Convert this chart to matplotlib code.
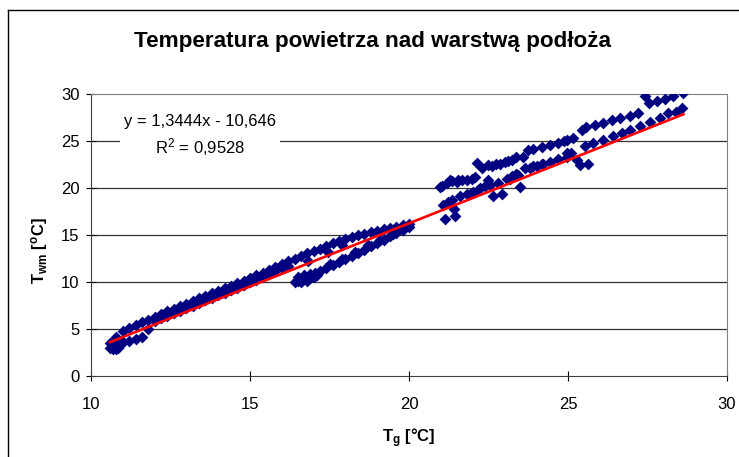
import numpy as np
import matplotlib
matplotlib.use("Agg")
import matplotlib.pyplot as plt
from matplotlib.lines import Line2D

plt.rcParams['font.family'] = ['Liberation Sans', 'DejaVu Sans']
plt.rcParams['mathtext.fontset'] = 'custom'
plt.rcParams['mathtext.rm'] = 'Liberation Sans'
plt.rcParams['mathtext.it'] = 'Liberation Sans:italic'
plt.rcParams['mathtext.bf'] = 'Liberation Sans:bold'

# --- data ---
# start cluster
start_x = [10.6, 10.65, 10.7, 10.75, 10.8, 10.85, 10.6, 10.9, 10.7, 10.8]
start_y = [3.0, 3.4, 2.9, 3.2, 3.5, 3.0, 3.5, 3.3, 3.6, 2.9]

# upper row of the dense band (warming)
band_up_x = [10.8, 11.0, 11.2, 11.4, 11.6, 11.8, 12.0, 12.2, 12.4, 12.6, 12.8,
             13.0, 13.2, 13.4, 13.6, 13.8, 14.0, 14.2, 14.4, 14.6, 14.8, 15.0,
             15.2, 15.4, 15.6, 15.8, 16.0, 16.2, 16.4, 16.6, 16.8, 17.0, 17.2,
             17.4, 17.6, 17.8, 18.0, 18.2, 18.4, 18.6, 18.8, 19.0, 19.2, 19.4,
             19.6, 19.8, 20.0]
band_up_y = [4.2, 4.75, 5.1, 5.4, 5.7, 6.0, 6.3, 6.6, 6.9, 7.15, 7.45,
             7.7, 8.0, 8.25, 8.55, 8.8, 9.05, 9.35, 9.6, 9.85, 10.15, 10.4,
             10.7, 11.0, 11.3, 11.6, 11.9, 12.2, 12.45, 12.75, 13.05, 13.3, 13.55,
             13.85, 14.1, 14.35, 14.6, 14.8, 15.0, 15.15, 15.3, 15.45, 15.6, 15.75,
             15.9, 16.05, 16.2]

# lower row of the dense band
band_lo_x = [11.0, 11.2, 11.4, 11.6, 11.8, 12.0, 12.2, 12.4, 12.6, 12.8, 13.0,
             13.2, 13.4, 13.6, 13.8, 14.0, 14.2, 14.4, 14.6, 14.8, 15.0, 15.2,
             15.4, 15.6, 15.8, 16.0, 16.2]
band_lo_y = [3.6, 3.7, 3.9, 4.2, 5.0, 5.85, 6.15, 6.4, 6.7, 6.95, 7.25,
             7.5, 7.75, 8.05, 8.3, 8.6, 8.85, 9.1, 9.4, 9.65, 9.95, 10.25,
             10.55, 10.85, 11.15, 11.45, 11.75]

# return branch (16-20 degC)
ret_x = [16.4, 16.5, 16.6, 16.7, 16.8, 16.9, 17.0, 17.1, 16.5, 16.7, 16.9, 17.05,
         16.6, 16.8, 17.2, 17.4, 17.6, 17.8, 18.0, 18.2, 18.4, 18.6, 18.8, 19.0,
         19.2, 19.4, 19.6, 19.8, 20.0, 17.5, 17.9, 18.3, 18.7, 19.1, 19.5,
         16.82, 17.45, 17.9]
ret_y = [10.0, 10.1, 10.2, 10.3, 10.4, 10.4, 10.5, 10.7, 10.5, 10.7, 10.9, 11.0,
         10.0, 10.1, 11.2, 11.5, 11.8, 12.1, 12.4, 12.8, 13.1, 13.45, 13.8, 14.1,
         14.5, 14.85, 15.2, 15.55, 15.9, 11.9, 12.5, 13.2, 13.9, 14.5, 15.1,
         12.2, 13.2, 13.9]

# upper row above 20 degC
right_up_x = [20.97, 21.03, 21.19, 21.29, 21.34, 21.5, 21.55, 21.66, 21.81, 21.97,
              22.08, 22.13, 22.29, 22.49, 22.6, 22.75, 22.86, 23.02, 23.12, 23.23,
              23.38, 23.59, 23.75, 23.91, 24.17, 24.43, 24.69, 24.86, 24.96, 25.17,
              25.43, 25.58, 25.85, 26.11, 26.37, 26.64, 26.95, 27.21, 27.42, 27.56,
              27.79, 28.05, 28.31, 28.63]
right_up_y = [20.1, 20.2, 20.5, 20.85, 20.7, 20.6, 20.85, 20.8, 20.9, 21.0,
              21.2, 22.7, 22.1, 22.45, 22.3, 22.6, 22.6, 22.8, 22.9, 23.0,
              23.25, 23.25, 24.0, 24.2, 24.4, 24.57, 24.8, 25.0, 25.1, 25.3,
              26.2, 26.5, 26.7, 26.9, 27.2, 27.4, 27.7, 28.0, 29.8, 29.0,
              29.3, 29.5, 29.8, 30.1]

# lower row above 20 degC
right_lo_x = [21.13, 21.45, 21.4, 21.08, 21.24, 21.34, 21.6, 21.81, 21.92, 22.02,
              22.18, 22.23, 22.39, 22.49, 22.55, 22.65, 22.81, 22.91, 23.07, 23.17,
              23.23, 23.38, 23.43, 23.49, 23.65, 23.81, 23.91, 24.01, 24.17, 24.22,
              24.43, 24.69, 24.96, 24.96, 25.11, 25.27, 25.38, 25.64, 25.53, 25.79,
              26.11, 26.42, 26.69, 26.95, 27.26, 27.58, 27.89, 28.15, 28.41, 28.57]
right_lo_y = [16.7, 17.0, 17.8, 18.2, 18.5, 18.7, 19.1, 19.4, 19.4, 19.6,
              19.8, 19.95, 20.2, 20.85, 20.3, 19.15, 20.5, 19.4, 21.0, 21.0,
              21.3, 21.5, 21.4, 20.1, 22.1, 22.1, 22.3, 22.3, 22.6, 22.55,
              22.8, 23.05, 23.3, 23.7, 23.75, 23.0, 22.45, 22.55, 24.5, 24.8,
              25.1, 25.5, 25.85, 26.2, 26.6, 27.05, 27.4, 27.95, 28.1, 28.5]

# trend line as printed on the chart
slope = 1.3444
intercept = -10.646
eq_text = "y = 1,3444x - 10,646\nR$^2$ = 0,9528"

xs = np.concatenate([start_x, band_up_x, band_lo_x, ret_x, right_up_x, right_lo_x])
ys = np.concatenate([start_y, band_up_y, band_lo_y, ret_y, right_up_y, right_lo_y])

W, H = 739, 457
fig = plt.figure(figsize=(W / 100, H / 100), dpi=100)
ax = fig.add_axes([91 / W, 1 - 376 / H, (727 - 91) / W, (376 - 94) / H])

ax.scatter(xs, ys, s=36, marker='D', color='#000080', linewidths=0, zorder=3)
tx = np.array([xs.min(), xs.max()])
ax.plot(tx, slope * tx + intercept, color='#ff0000', lw=1.9, zorder=4)

ax.set_xlim(10, 30)
ax.set_ylim(0, 30)
ax.set_xticks(range(10, 31, 5))
ax.set_yticks(range(0, 31, 5))
for v in range(5, 30, 5):
    ax.axhline(v, color='#333333', lw=0.9, zorder=1)

for s in ['top', 'right']:
    ax.spines[s].set_color('#808080')
for s in ['left', 'bottom']:
    ax.spines[s].set_color('#404040')
ax.tick_params(axis='x', direction='inout', length=6.5, pad=12, labelsize=12)
ax.tick_params(axis='y', direction='inout', length=6.5, pad=5, labelsize=12)

fig.text(372 / W, 1 - 42 / H, "Temperatura powietrza nad warstwą podłoża",
         ha='center', va='center', fontsize=16.2, fontweight='bold')
fig.text(409 / W, 1 - 438 / H, r"T$_{\mathbf{g}}$ [°C]",
         ha='center', va='center', fontsize=12, fontweight='bold')
fig.text(40 / W, 1 - 251 / H, r"T$_{\mathbf{wm}}$ [$^{\mathbf{o}}$C]",
         ha='center', va='center', fontsize=12, fontweight='bold', rotation=90)
fig.text(200 / W, 1 - 136 / H, eq_text, ha='center', va='center',
         multialignment='center', fontsize=12, linespacing=1.45,
         bbox=dict(facecolor='white', edgecolor='none', pad=3), zorder=5)

# outer chart border (left and top edges visible)
fig.add_artist(Line2D([8 / W, 8 / W], [0, 1 - 10 / H], color='black', lw=1))
fig.add_artist(Line2D([8 / W, 1], [1 - 10 / H, 1 - 10 / H], color='black', lw=1))

fig.savefig("out.png", dpi=100)
